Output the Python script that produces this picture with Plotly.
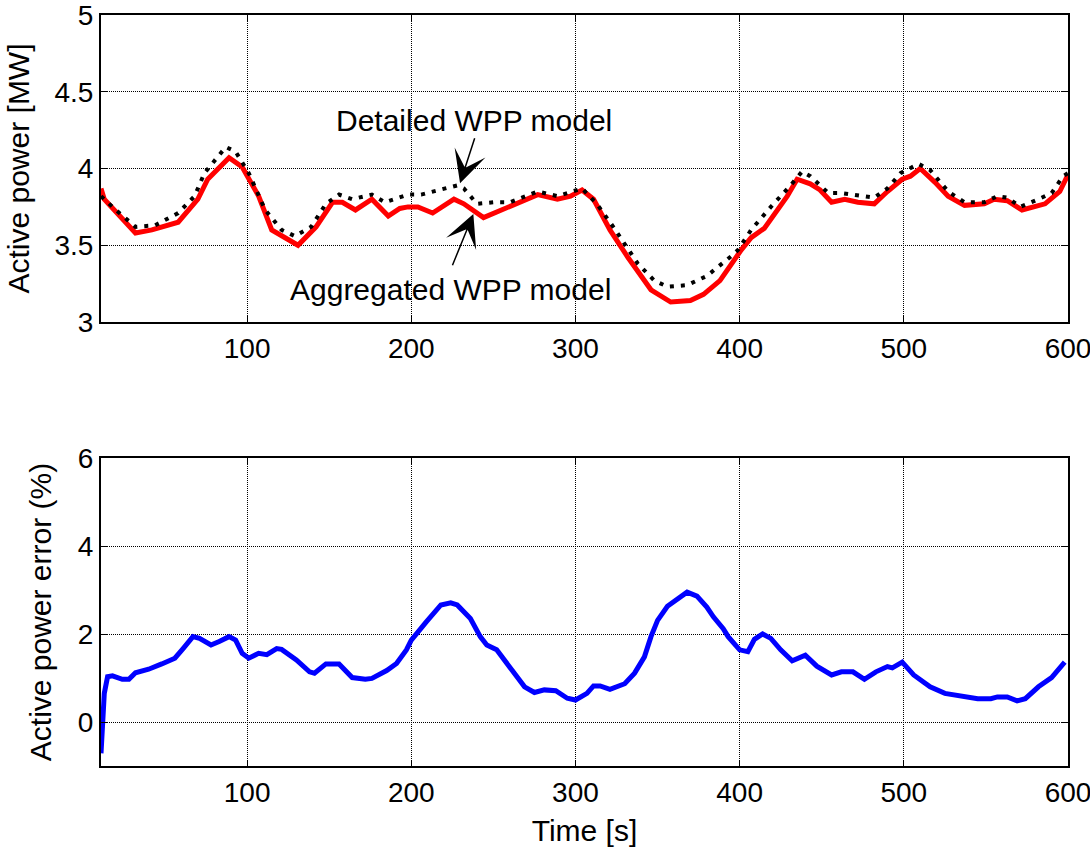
import plotly.graph_objects as go
from plotly.subplots import make_subplots

# Aggregated WPP model (red)
t_agg = [11, 13, 32, 42, 58, 70, 76, 89, 97, 107, 115, 131, 142, 152, 158, 166, 176, 186, 193, 198,
         204, 213, 226, 232, 244, 258, 277, 289, 297, 304, 311, 321, 332, 346, 358, 370, 378, 388, 395, 401,
         407, 415, 429, 435, 443, 449, 456, 464, 472, 482, 490, 499, 504, 510, 519, 527, 537, 549, 555, 563,
         572, 586, 595, 600]
p_agg = [3.87, 3.80, 3.58, 3.60, 3.65, 3.80, 3.93, 4.07, 4.01, 3.82, 3.60, 3.50, 3.62, 3.78, 3.78, 3.73, 3.80, 3.69, 3.74, 3.75,
         3.75, 3.71, 3.80, 3.77, 3.68, 3.74, 3.83, 3.80, 3.82, 3.86, 3.80, 3.60, 3.42, 3.21, 3.13, 3.14, 3.18, 3.27, 3.38, 3.47,
         3.55, 3.61, 3.82, 3.93, 3.90, 3.86, 3.78, 3.80, 3.78, 3.77, 3.85, 3.93, 3.95, 4.00, 3.91, 3.82, 3.76, 3.77, 3.80, 3.79,
         3.73, 3.77, 3.85, 3.96]

# Detailed WPP model (black dotted)
t_det = [11, 20, 32, 44, 58, 68, 74, 87, 93, 101, 111, 121, 129, 139, 148, 156, 164, 176, 184, 198,
         206, 218, 228, 232, 240, 250, 260, 277, 289, 304, 313, 323, 338, 348, 356, 368, 380, 395, 399, 407,
         419, 431, 438, 443, 454, 462, 474, 482, 490, 498, 509, 516, 527, 537, 549, 557, 563, 571, 582, 590,
         597, 600]
p_det = [3.82, 3.73, 3.62, 3.63, 3.71, 3.82, 3.97, 4.14, 4.11, 3.97, 3.73, 3.60, 3.56, 3.62, 3.77, 3.83, 3.80, 3.83, 3.78, 3.83,
         3.83, 3.86, 3.89, 3.87, 3.77, 3.78, 3.78, 3.85, 3.82, 3.87, 3.77, 3.62, 3.38, 3.27, 3.23, 3.24, 3.30, 3.43, 3.47, 3.60,
         3.75, 3.89, 3.98, 3.95, 3.84, 3.84, 3.82, 3.81, 3.87, 3.97, 4.03, 3.99, 3.85, 3.78, 3.78, 3.82, 3.81, 3.75, 3.80, 3.84,
         3.95, 3.97]

# Active power error (%) (blue)
t_err = [11, 12, 13, 15, 18, 24, 28, 32, 40, 48, 56, 61, 67, 71, 78, 83, 89, 93, 97, 101,
         107, 112, 118, 121, 130, 138, 141, 148, 156, 164, 172, 176, 185, 191, 197, 200, 204, 209, 218, 224,
         228, 236, 242, 246, 252, 260, 269, 275, 281, 288, 295, 300, 307, 311, 315, 321, 330, 336, 342, 346,
         350, 356, 362, 368, 374, 380, 384, 390, 393, 400, 405, 409, 414, 419, 425, 432, 440, 447, 456, 462,
         469, 476, 483, 490, 493, 499, 506, 516, 525, 533, 545, 553, 557, 563, 569, 574, 582, 590, 594, 598]
err = [-0.71, 0.12, 0.65, 1.03, 1.05, 0.97, 0.97, 1.12, 1.20, 1.32, 1.45, 1.67, 1.94, 1.90, 1.75, 1.83, 1.94, 1.86, 1.56, 1.45,
       1.56, 1.53, 1.67, 1.65, 1.41, 1.14, 1.11, 1.32, 1.32, 1.01, 0.97, 0.99, 1.17, 1.33, 1.64, 1.86, 2.05, 2.27, 2.66, 2.71,
       2.66, 2.35, 1.94, 1.75, 1.64, 1.26, 0.80, 0.67, 0.73, 0.71, 0.54, 0.50, 0.65, 0.82, 0.82, 0.74, 0.87, 1.11, 1.48, 1.94,
       2.31, 2.63, 2.80, 2.95, 2.86, 2.61, 2.39, 2.12, 1.94, 1.64, 1.60, 1.88, 2.00, 1.90, 1.64, 1.39, 1.52, 1.27, 1.07, 1.14,
       1.14, 0.97, 1.14, 1.26, 1.23, 1.36, 1.07, 0.80, 0.65, 0.61, 0.53, 0.53, 0.57, 0.57, 0.48, 0.53, 0.80, 1.01, 1.17, 1.36]

x_ticks = [100, 200, 300, 400, 500, 600]
y1_ticks = [3, 3.5, 4, 4.5, 5]
y2_ticks = [0, 2, 4, 6]

FONT = "Liberation Sans, Arial, sans-serif"

fig = make_subplots(rows=2, cols=1, vertical_spacing=0.18)

fig.add_trace(go.Scatter(x=t_agg, y=p_agg, mode="lines", name="Aggregated WPP model",
                         line=dict(color="#ff0000", width=5)), row=1, col=1)
fig.add_trace(go.Scatter(x=t_det, y=p_det, mode="lines", name="Detailed WPP model",
                         line=dict(color="#000000", width=4, dash="4px,7px")), row=1, col=1)
fig.add_trace(go.Scatter(x=t_err, y=err, mode="lines", name="Error",
                         line=dict(color="#0000ff", width=5)), row=2, col=1)

axis_common = dict(
    showline=True, linecolor="black", linewidth=2, mirror="ticks",
    ticks="inside", ticklen=6, tickcolor="black", tickwidth=1,
    showgrid=True, gridcolor="black", gridwidth=1, griddash="1px,1px",
    zeroline=False, tickfont=dict(family=FONT, size=28, color="black"),
    title_font=dict(family=FONT, size=30, color="black"),
    automargin=False, ticklabeloverflow="allow",
)

fig.update_xaxes(range=[11, 600], tickvals=x_ticks, **axis_common)
fig.update_yaxes(**axis_common)
fig.update_yaxes(range=[3, 5], tickvals=y1_ticks, ticktext=["3", "3.5", "4", "4.5", "5"],
                 title_text="Active power [MW]", title_standoff=16, row=1, col=1)
fig.update_yaxes(range=[-1, 6], tickvals=y2_ticks, title_text="Active power error (%)",
                 title_standoff=17, row=2, col=1)
fig.update_xaxes(title_text="Time [s]", title_standoff=13, row=2, col=1)

fig.update_layout(
    xaxis=dict(domain=[0, 1]),
    yaxis=dict(domain=[0.5912, 1.0]),
    yaxis2=dict(domain=[0.0, 0.4101]),
)

# Text labels
fig.add_annotation(x=238, y=4.316, xref="x", yref="y", text="Detailed WPP model", showarrow=False,
                   font=dict(family=FONT, size=30, color="black"))
fig.add_annotation(x=223.6, y=3.215, xref="x", yref="y", text="Aggregated WPP model", showarrow=False,
                   font=dict(family=FONT, size=30, color="black"))
# Arrows
fig.add_annotation(x=229.7, y=3.904, ax=238.9, ay=4.207, xref="x", yref="y", axref="x", ayref="y",
                   text="", showarrow=True, arrowhead=3, arrowsize=3.6, arrowwidth=1.5, arrowcolor="black")
fig.add_annotation(x=237.8, y=3.704, ax=224.7, ay=3.36, xref="x", yref="y", axref="x", ayref="y",
                   text="", showarrow=True, arrowhead=3, arrowsize=3.6, arrowwidth=1.5, arrowcolor="black")

fig.update_layout(
    width=1090, height=848, autosize=False,
    margin=dict(l=101, r=22, t=15, b=82),
    paper_bgcolor="white", plot_bgcolor="white",
    showlegend=False,
    font=dict(family=FONT, color="black"),
)

# remove the default 8px page margin so the figure fills the window exactly
fig.write_html("out.html", config={"displayModeBar": False},
               post_script="document.body.style.margin='0';")
